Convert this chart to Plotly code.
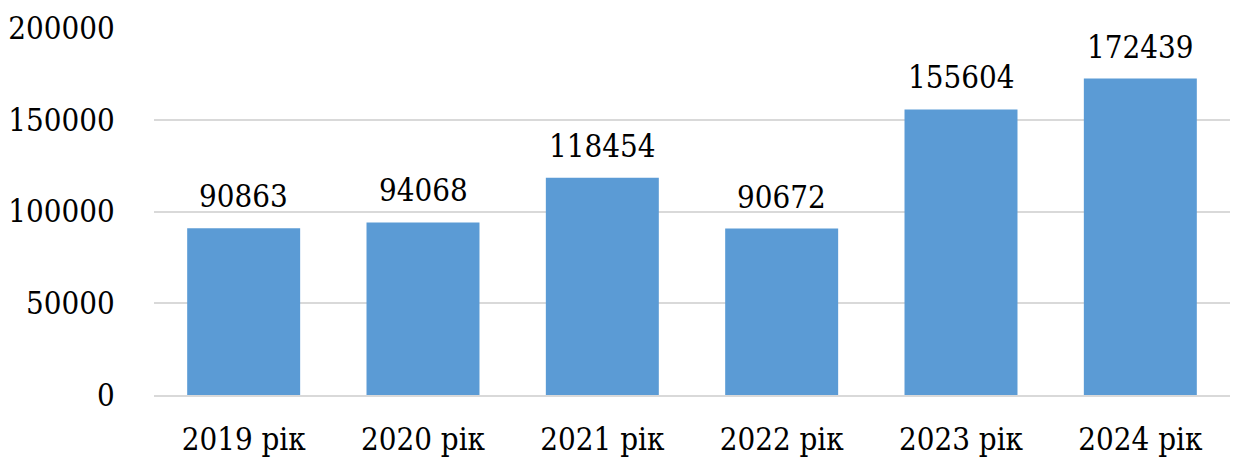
import plotly.graph_objects as go

years = ["2019 рік", "2020 рік", "2021 рік", "2022 рік", "2023 рік", "2024 рік"]
values = [90863, 94068, 118454, 90672, 155604, 172439]
y_ticks = [0, 50000, 100000, 150000, 200000]

FONT = "'DejaVu Serif Condensed', 'DejaVu Serif', serif"
SIZE = 31

fig = go.Figure(
    go.Bar(
        x=years,
        y=values,
        marker=dict(color="#5B9BD5", line=dict(width=0)),
        hoverinfo="x+y",
    )
)

# value labels sit just above each bar
for x, v in zip(years, values):
    fig.add_annotation(
        x=x, y=v, text=str(v), showarrow=False,
        yanchor="bottom", yshift=12,
        font=dict(family=FONT, size=SIZE, color="#000000"),
    )

fig.update_layout(
    width=1239, height=463,
    margin=dict(l=154, r=9, t=28, b=68, autoexpand=False),
    paper_bgcolor="white", plot_bgcolor="white",
    bargap=0.37,
    showlegend=False,
    font=dict(family=FONT, size=SIZE, color="#000000"),
)
fig.update_yaxes(
    range=[0, 200000],
    tickvals=y_ticks,
    ticktext=[str(t) for t in y_ticks],
    tickfont=dict(family=FONT, size=SIZE),
    showgrid=True, gridcolor="#D9D9D9", gridwidth=1.5,
    zeroline=False, showline=False, automargin=False,
    ticks="outside", ticklen=32, tickcolor="rgba(0,0,0,0)",
)
fig.update_xaxes(
    showline=True, linecolor="#D9D9D9", linewidth=1.5, automargin=False,
    tickfont=dict(family=FONT, size=SIZE),
    ticks="outside", ticklen=16, tickcolor="rgba(0,0,0,0)",
)

fig.write_html("out.html")
